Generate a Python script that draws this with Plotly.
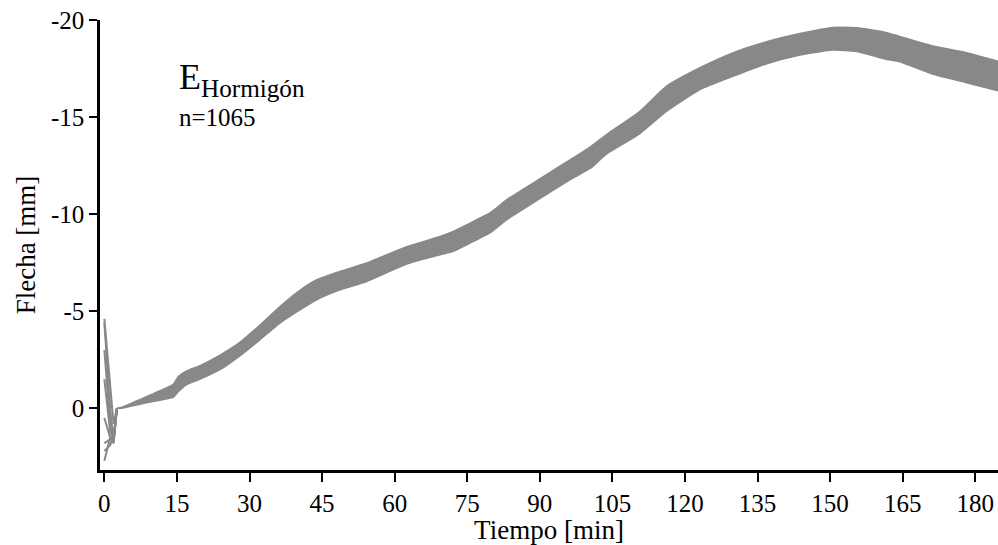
import plotly.graph_objects as go

# ---- data (Flecha [mm] vs Tiempo [min]) ----
# envelope of the n=1065 simulated curves
band_t = [2.6, 3.6, 8.0, 13.5, 14.3, 15.3, 17.0, 19.8, 24.0, 28.0, 32.0, 36.3, 40.0,
          43.9, 48.7, 54.2, 62.5, 69.4, 72.1, 76.3, 79.7, 83.2, 90.0, 96.9, 100.4,
          103.8, 110.7, 116.2, 123.1, 130.0, 136.9, 143.8, 150.6, 155.5, 161.7,
          164.4, 171.3, 178.2, 184.7]
band_upper = [0.0, -0.05, -0.52, -1.12, -1.25, -1.63, -1.92, -2.2, -2.75, -3.39, -4.25,
              -5.24, -6.0, -6.62, -7.05, -7.48, -8.32, -8.85, -9.11, -9.63, -10.06,
              -10.75, -11.82, -12.9, -13.45, -14.1, -15.3, -16.59, -17.54, -18.32,
              -18.88, -19.3, -19.61, -19.6, -19.35, -19.15, -18.66, -18.32, -17.88]
band_lower = [0.0, 0.0, -0.24, -0.52, -0.58, -0.86, -1.22, -1.5, -2.0, -2.7, -3.5,
              -4.39, -5.0, -5.59, -6.1, -6.53, -7.43, -7.91, -8.08, -8.6, -9.03,
              -9.72, -10.8, -11.87, -12.35, -13.1, -14.15, -15.3, -16.42, -17.11,
              -17.75, -18.2, -18.45, -18.38, -17.97, -17.85, -17.2, -16.77, -16.35]

# initial scatter of a few curves in the first minutes
spike_t = [0.0, 1.2, 1.9, 2.6]
spike_curves = [
    [-4.6, -1.0, 0.8, 0.0],
    [-4.4, 0.0, 1.7, 0.0],
    [-3.0, 0.8, 1.8, 0.0],
    [-1.5, 1.2, 1.6, 0.0],
    [0.5, 1.5, 1.7, 0.0],
    [1.8, 1.6, 1.5, 0.0],
    [2.7, 1.5, 1.8, 0.0],
    [2.2, 1.9, 1.4, 0.0],
]

x_tickvals = [0, 15, 30, 45, 60, 75, 90, 105, 120, 135, 150, 165, 180]
y_tickvals = [-20, -15, -10, -5, 0]
y_ticktext = ["-20", "-15", "-10", "-5", "0"]

x_title = "Tiempo [min]"
y_title = "Flecha [mm]"
label_main = "E<sub>Hormigón</sub>"
label_n = "n=1065"

GRAY = "#888888"
FONT = "Liberation Serif, Times New Roman, serif"

fig = go.Figure()
for c in spike_curves:
    fig.add_trace(go.Scatter(x=spike_t, y=c, mode="lines",
                             line=dict(color=GRAY, width=2), hoverinfo="skip"))
fig.add_trace(go.Scatter(x=band_t, y=band_upper, mode="lines",
                         line=dict(color=GRAY, width=1.5, shape="spline", smoothing=0.5),
                         hoverinfo="skip"))
fig.add_trace(go.Scatter(x=band_t, y=band_lower, mode="lines", fill="tonexty",
                         fillcolor=GRAY,
                         line=dict(color=GRAY, width=1.5, shape="spline", smoothing=0.5),
                         hoverinfo="skip"))

fig.add_annotation(x=15.0, y=-18.2, xref="x", yref="y", text=label_main,
                   showarrow=False, xanchor="left", yanchor="top",
                   font=dict(family=FONT, size=36, color="black"))
fig.add_annotation(x=15.0, y=-15.0, xref="x", yref="y", text=label_n,
                   showarrow=False, xanchor="left", yanchor="middle",
                   font=dict(family=FONT, size=25, color="black"))

fig.update_layout(
    width=998, height=545,
    margin=dict(l=100, r=0, t=20, b=75),
    paper_bgcolor="white", plot_bgcolor="white",
    showlegend=False,
    font=dict(family=FONT, size=25, color="black"),
)
fig.update_xaxes(range=[-0.9, 184.7], tickvals=x_tickvals,
                 showgrid=False, zeroline=False,
                 showline=True, linecolor="black", linewidth=2.5,
                 ticks="outside", ticklen=9, tickwidth=2, tickcolor="black",
                 title=dict(text=x_title, standoff=2, font=dict(family=FONT, size=27)),
                 tickfont=dict(family=FONT, size=25))
fig.update_yaxes(range=[3.18, -20], tickvals=y_tickvals, ticktext=y_ticktext,
                 showgrid=False, zeroline=False,
                 showline=True, linecolor="black", linewidth=2.5,
                 ticks="outside", ticklen=8, tickwidth=2, tickcolor="black",
                 title=dict(text=y_title, standoff=8, font=dict(family=FONT, size=27)),
                 tickfont=dict(family=FONT, size=25))

fig.write_html("out.html", config={"displayModeBar": False},
               post_script="document.body.style.margin='0';")
